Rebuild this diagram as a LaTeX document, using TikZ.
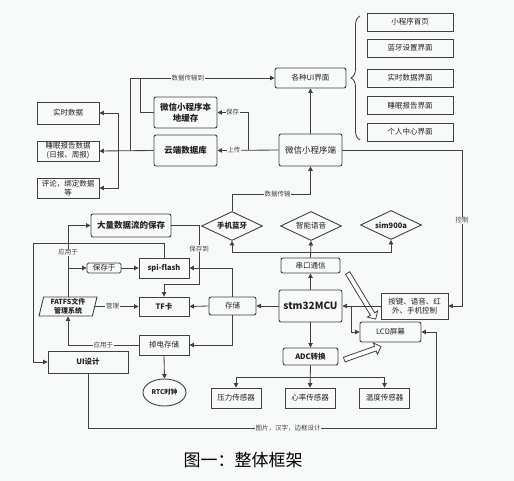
\documentclass[tikz,border=0pt]{standalone}
\usepackage{fontspec}
\setmainfont{Noto Sans CJK SC}
\usepackage{tikz}
\usetikzlibrary{arrows.meta, positioning, shapes.geometric, shapes.arrows, decorations.pathreplacing}
\usepackage{xcolor}
\definecolor{bgc}{RGB}{248,249,249}
\definecolor{linec}{RGB}{65,65,65}
\definecolor{textc}{RGB}{35,35,35}

\tikzset{
  sbox/.style={draw=linec, line width=0.9pt, text=textc, align=center, inner sep=1pt,
    font=\fontsize{7.5}{9}\selectfont},
  rbox/.style={sbox, rounded corners=2pt},
  dia/.style={sbox, diamond, aspect=2.1, inner sep=0pt, minimum width=61, minimum height=29},
  ln/.style={draw=linec, line width=0.85pt},
  arr/.style={ln, -{Triangle[width=4.5pt,length=4.5pt]}},
  lbl/.style={fill=bgc, inner sep=0.6pt, text=textc!85, font=\fontsize{6.5}{6.5}\selectfont},
  hollow/.style={single arrow, draw=linec, line width=0.8pt, fill=white, inner sep=2pt,
    minimum width=12, single arrow head extend=3.5pt, single arrow head indent=0pt},
}

\begin{document}
\begin{tikzpicture}[x=1pt, y=-1pt]
    \fill[bgc] (0,0) rectangle (514,481);
    \useasboundingbox (0,0) rectangle (514,481);

    \node[rbox, font=\bfseries\fontsize{8.5}{10.5}\selectfont, minimum width=63, minimum height=31] (cache) at (185.5,112.5) {微信小程序本\\地缓存};
    \node[rbox, font=\bfseries\fontsize{8.5}{10.5}\selectfont, minimum width=63, minimum height=31] (cloud) at (185.5,150.5) {云端数据库};
    \node[sbox, minimum width=62, minimum height=22] (live) at (68,113) {实时数据};
    \node[sbox, minimum width=62, minimum height=20] (sleep) at (68,151) {睡眠报告数据\\(日报、周报)};
    \node[sbox, minimum width=62, minimum height=20] (misc) at (68,188) {评论，绑定数据\\等};

    \node[rbox, minimum width=71, minimum height=20] (ui) at (310.5,78) {各种UI界面};
    \foreach \t/\y [count=\i] in {小程序首页/22, 蓝牙设置界面/48, 实时数据界面/78, 睡眠报告界面/105.5, 个人中心界面/132}
        \node[sbox, minimum width=86, minimum height=18] (page\i) at (410,\y) {\t};
    \draw[ln, decorate, decoration={brace, amplitude=9pt}] (360,140) -- (360,16);

    \node[rbox, font=\fontsize{8.5}{10}\selectfont, minimum width=63, minimum height=32] (wx) at (310.5,150) {微信小程序端};

    \node[dia, font=\bfseries\fontsize{7.5}{8}\selectfont] (bt) at (232,226) {手机蓝牙};
    \node[dia] (voice) at (311,226) {智能语音};
    \node[dia, font=\bfseries\fontsize{7.5}{8}\selectfont] (sim) at (391,225) {sim900a};

    \node[rbox, minimum width=59, minimum height=15] (uart) at (310.5,265.5) {串口通信};
    \node[rbox, font=\bfseries\fontsize{10}{11}\selectfont, minimum width=63, minimum height=32] (mcu) at (310.5,306) {stm32MCU};
    \node[rbox, font=\bfseries\fontsize{7.5}{9}\selectfont, minimum width=55, minimum height=17] (adc) at (310.5,356.5) {ADC转换};
    \foreach \t/\x [count=\i] in {压力传感器/236, 心率传感器/310, 温度传感器/384.5}
        \node[sbox, minimum width=50, minimum height=20] (sen\i) at (\x,398) {\t};
    \node[rbox, minimum width=61, minimum height=20] (lcd) at (390.5,332) {LCD屏幕};
    \node[sbox, minimum width=67, minimum height=26] (keys) at (414.5,306) {按键、语音、红\\外、手机控制};

    \node[rbox, font=\bfseries\fontsize{8.5}{10}\selectfont, minimum width=80, minimum height=23] (big) at (131,225.5) {大量数据流的保存};
    \node[sbox, font=\bfseries\fontsize{7.5}{9}\selectfont, minimum width=50, minimum height=20] (spi) at (164,268) {spi-flash};
    \node[rbox, rounded corners=1.5pt, minimum width=34, minimum height=10] (savein) at (104,268) {保存于};
    \node[sbox, font=\bfseries\fontsize{7.5}{9}\selectfont, minimum width=50, minimum height=19] (tf) at (164,306.5) {TF卡};
    \node[rbox, minimum width=47, minimum height=18] (store) at (232.5,306) {存储};
    \node[sbox, minimum width=50, minimum height=20] (pd) at (164,345) {掉电存储};
    \node[sbox, font=\bfseries\fontsize{7.5}{9}\selectfont, minimum width=80, minimum height=22] (uid) at (88,362) {UI设计};
    \node[sbox, trapezium, trapezium left angle=75, trapezium right angle=105, trapezium stretches body,
        font=\bfseries\fontsize{7}{8.5}\selectfont, minimum width=58, minimum height=19] (fat) at (68,306.5) {FATFS文件\\管理系统};
    \node[sbox, ellipse, font=\bfseries\fontsize{6.5}{8}\selectfont, minimum width=43, minimum height=27] (rtc) at (164.5,392.5) {RTC时钟};

    \node[hollow, minimum height=54, rotate=-58.7] (ha1) at (361,295) {};
    \node[hollow, minimum height=39, rotate=19.4] (ha2) at (361.5,353.5) {};

    \node[font=\fontsize{17}{17}\selectfont] (cap) at (243,460) {图一：整体框架};

    \coordinate (j1) at (118,151);
    \coordinate (j2) at (130,151);
    \coordinate (j3) at (140,78);
    \coordinate (j4) at (248,150);
    \coordinate (c1) at (462,150);
    \coordinate (c2) at (310.5,194);
    \coordinate (c3) at (311,252);
    \coordinate (c4) at (310,377);
    \coordinate (c5) at (351,306);
    \coordinate (c6) at (88,428);
    \coordinate (c7) at (436,428);
    \coordinate (c8) at (199,284);
    \coordinate (c9) at (33,243);
    \coordinate (c10) at (68,268);

    \draw[arr] (cloud.west) -- (sleep.east);
    \draw[arr] (j1) |- (live.east);
    \draw[arr] (j1) |- (misc.east);
    \draw[arr] (j2) |- node[lbl, pos=0.7] {数据传输到} (ui.west);
    \draw[ln] (cache.west) -| (j3);

    \draw[arr] (wx.north) -- (ui.south);
    \draw[arr] (wx.west) -- node[lbl, pos=0.73] {上传} (cloud.east);
    \draw[arr] (j4) |- node[lbl, pos=0.75] {保存} (cache.east);
    \draw[arr] (wx.east) -- (c1) -- node[lbl, pos=0.45] {控制} (c1 |- keys.east) -- (keys.east);
    \draw[arr] (bt.north) |- node[lbl, pos=0.79] {数据传输} (c2) -- (wx.south);

    \draw[arr] (uart.north) -- (voice.south);
    \draw[arr] (c3) -| (bt.south);
    \draw[arr] (c3) -| (sim.south);
    \draw[arr] (mcu.north) -- (uart.south);
    \draw[arr] (mcu.south) -- (adc.north);
    \draw[arr] (adc.south) -- (sen2.north);
    \draw[arr] (c4) -| (sen1.north);
    \draw[arr] (c4) -| (sen3.north);
    \draw[arr] (keys.west) -- (mcu.east);
    \draw[arr] (c5) |- (lcd.west);
    \draw[arr] (uid.south) -- (c6) -- node[lbl, pos=0.575] {图片，汉字，边框设计} (c7) |- (lcd.east);

    \draw[arr] (mcu.west) -- (store.east);
    \draw[arr] (store.west) -- (tf.east);
    \draw[arr] (store.north) |- (spi.east);
    \draw[arr] (store.south) |- (pd.east);
    \draw[arr] (big.east) -| node[lbl, pos=0.7] {保存到} (c8) -| (tf.north);
    \draw[arr] (spi.north) |- (c9) |- (uid.west);
    \draw[arr] (fat.north) |- node[lbl, pos=0.31] {应用于} (big.west);
    \draw[arr] (c10) -- (savein.west);
    \draw[arr] (savein.east) -- (spi.west);
    \draw[arr] (fat.east) -- node[lbl, pos=0.4] {管理} (tf.west);
    \draw[arr] (pd.west) -| node[lbl, pos=0.25] {应用于} (fat.south);
    \draw[arr] (pd.south) -- (rtc.north);
\end{tikzpicture}
\end{document}
